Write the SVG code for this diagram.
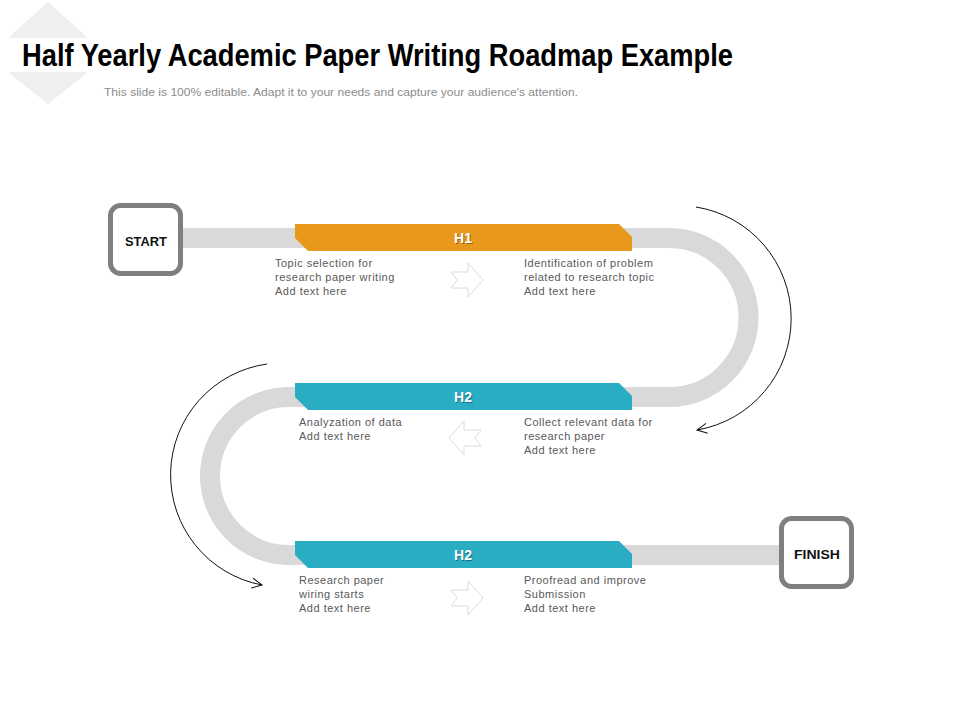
<svg xmlns="http://www.w3.org/2000/svg" width="960" height="720" viewBox="0 0 960 720">
<style>
.title{font-family:"Liberation Sans Narrow","Liberation Sans",Arial,sans-serif;font-weight:bold;font-size:31px;fill:#000}
.sub{font-family:"Liberation Sans",Arial,sans-serif;font-size:11px;fill:#8c8c8c}
.body{font-family:"Liberation Sans",Arial,sans-serif;font-size:11px;letter-spacing:0.5px;fill:#595959}
.box{fill:#fff;stroke:#7f7f7f;stroke-width:5}
.boxt{font-family:"Liberation Sans",Arial,sans-serif;font-weight:bold;font-size:13px;fill:#111;text-anchor:middle}
.road{fill:none;stroke:#d9d9d9;stroke-width:20}
.ht{font-family:"Liberation Sans",Arial,sans-serif;font-weight:bold;font-size:14px;fill:#fff;text-anchor:middle}
.hs{font-family:"Liberation Sans",Arial,sans-serif;font-weight:bold;font-size:14px;fill:#000;opacity:.35;text-anchor:middle}
.arr{fill:#fff;stroke:#dcdcdc;stroke-width:1}
.curve{fill:none;stroke:#111;stroke-width:1}
</style>
<defs>
<marker id="open" markerUnits="userSpaceOnUse" markerWidth="14" markerHeight="14" refX="11" refY="6" orient="auto">
<path d="M1,1 L11,6 L1,11" fill="none" stroke="#111" stroke-width="1"/>
</marker>
<polygon id="banner" points="0,0 324,0 337,13 337,27 13,27 0,14"/>
<polygon id="blockarrow" points="-15,-8 2,-8 2,-17 17,0 2,17 2,8 -15,8 -9,0"/>
</defs>
<rect width="960" height="720" fill="#fff"/>
<g id="decor">
<polygon points="48,2 88,38 8,38" fill="#efefef"/>
<polygon points="8,72 88,72 48,104" fill="#efefef"/>
</g>
<g id="title">
<text class="title" x="22" y="66" textLength="711" lengthAdjust="spacingAndGlyphs">Half Yearly Academic Paper Writing Roadmap Example</text>
<text class="sub" x="104" y="96" textLength="474" lengthAdjust="spacingAndGlyphs">This slide is 100% editable. Adapt it to your needs and capture your audience's attention.</text>
</g>
<g id="connectors">
<path class="road" d="M150 238 H669 A79.5 79.5 0 0 1 669 397 H289 A79 79 0 0 0 289 555 H815"/>
<path class="curve" d="M696 207 A113 113 0 0 1 697 430" marker-end="url(#open)"/>
<path class="curve" d="M267 364 A112 112 0 0 0 262 585" marker-end="url(#open)"/>
<use href="#blockarrow" class="arr" transform="translate(466,280)"/>
<use href="#blockarrow" class="arr" transform="translate(466,438) scale(-1,1)"/>
<use href="#blockarrow" class="arr" transform="translate(466,598)"/>
</g>
<g id="start">
<rect class="box" x="110.5" y="205.5" width="70" height="68" rx="10"/>
<text class="boxt" x="146" y="246" textLength="42" lengthAdjust="spacingAndGlyphs">START</text>
</g>
<g id="finish">
<rect class="box" x="781.5" y="518.5" width="70" height="68" rx="10"/>
<text class="boxt" x="817" y="559" textLength="46" lengthAdjust="spacingAndGlyphs">FINISH</text>
</g>
<g id="h1">
<use href="#banner" fill="#e8991c" transform="translate(295,224)"/>
<text class="hs" x="464" y="244">H1</text>
<text class="ht" x="463" y="243">H1</text>
</g>
<g id="h2a">
<use href="#banner" fill="#2aacc3" transform="translate(295,383)"/>
<text class="hs" x="464" y="403">H2</text>
<text class="ht" x="463" y="402">H2</text>
</g>
<g id="h2b">
<use href="#banner" fill="#2aacc3" transform="translate(295,541)"/>
<text class="hs" x="464" y="561">H2</text>
<text class="ht" x="463" y="560">H2</text>
</g>
<g id="text1">
<text class="body" x="275" y="267">Topic selection for</text>
<text class="body" x="275" y="281">research paper writing</text>
<text class="body" x="275" y="295">Add text here</text>
</g>
<g id="text2">
<text class="body" x="524" y="267">Identification of problem</text>
<text class="body" x="524" y="281">related to research topic</text>
<text class="body" x="524" y="295">Add text here</text>
</g>
<g id="text3">
<text class="body" x="299" y="426">Analyzation of data</text>
<text class="body" x="299" y="440">Add text here</text>
</g>
<g id="text4">
<text class="body" x="524" y="426">Collect relevant data for</text>
<text class="body" x="524" y="440">research paper</text>
<text class="body" x="524" y="454">Add text here</text>
</g>
<g id="text5">
<text class="body" x="299" y="584">Research paper</text>
<text class="body" x="299" y="598">wiring starts</text>
<text class="body" x="299" y="612">Add text here</text>
</g>
<g id="text6">
<text class="body" x="524" y="584">Proofread and improve</text>
<text class="body" x="524" y="598">Submission</text>
<text class="body" x="524" y="612">Add text here</text>
</g>
</svg>
